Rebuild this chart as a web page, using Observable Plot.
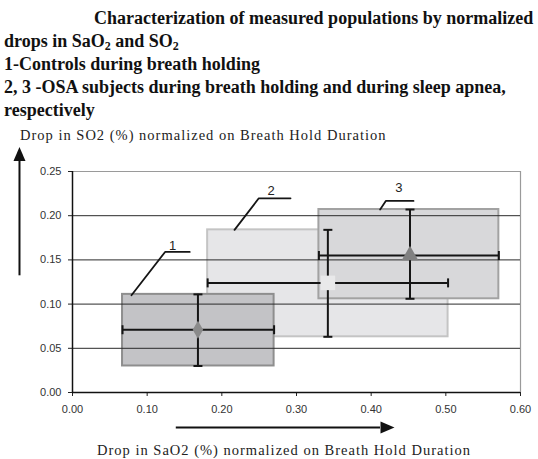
<!DOCTYPE html>
<html>
<head>
<meta charset="utf-8">
<script src="https://cdn.jsdelivr.net/npm/d3@7"></script>
<script src="https://cdn.jsdelivr.net/npm/@observablehq/plot@0.6"></script>
<style>
  body { margin: 0; background: #fff; }
  #wrap { position: relative; width: 538px; height: 459px; overflow: hidden; background: #fff; }
  .title { position: absolute; left: 4px; top: 7px; width: 534px; font-family: "Liberation Serif", serif; font-weight: bold; font-size: 18px; line-height: 23px; color: #111; white-space: nowrap; }
  .title sub { font-size: 12px; line-height: 0; vertical-align: -3px; }
  .axt { position: absolute; font-family: "Liberation Serif", serif; font-size: 14.5px; line-height: 16px; color: #222; white-space: nowrap; letter-spacing: 1px; }
  #chart { position: absolute; left: 0; top: 142px; }
</style>
</head>
<body>
<div id="wrap">
  <div class="title">
    <div style="padding-left:90px">Characterization of measured populations by normalized</div>
    <div>drops in SaO<sub>2</sub> and SO<sub>2</sub></div>
    <div>1-Controls during breath holding</div>
    <div>2, 3 -OSA subjects during breath holding and during sleep apnea,</div>
    <div>respectively</div>
  </div>
  <div class="axt" id="ytitle" style="left:20px; top:127px;">Drop in SO2 (%) normalized on Breath Hold Duration</div>
  <div id="chart"></div>
  <div class="axt" id="xtitle" style="left:97px; top:442px;">Drop in SaO2 (%) normalized on Breath Hold Duration</div>
</div>
<script>
// ---- data ----
const groups = ["1", "2", "3"];
const xMean = [0.168, 0.342, 0.452];
const yMean = [0.071, 0.124, 0.155];
const xLow  = [0.067, 0.181, 0.330];
const xHigh = [0.270, 0.503, 0.571];
const yLow  = [0.030, 0.063, 0.106];
const yHigh = [0.111, 0.184, 0.207];
const xTicks = [0, 0.1, 0.2, 0.3, 0.4, 0.5, 0.6];
const yTicks = [0, 0.05, 0.10, 0.15, 0.20, 0.25];
const yGrid = [0.05, 0.10, 0.15, 0.20];
// label positions and leader-line vertices (data units)
const labelX = [0.134, 0.266, 0.437];
const labelY = [0.166, 0.228, 0.231];
const leaderGroup = ["1","1","1","2","2","2","3","3","3"];
const leaderX = [0.079, 0.124, 0.157, 0.217, 0.2495, 0.292, 0.412, 0.4196, 0.4567];
const leaderY = [0.110, 0.159, 0.159, 0.184, 0.2197, 0.2197, 0.207, 0.2167, 0.2167];
// axis direction arrows (data units, outside the frame)
const vArrowX = [-0.071];
const vArrowY = [0.132, 0.262];
const hArrowY = [-0.0395];
const hArrowX = [0.139, 0.4125];

// ---- styles ----
const boxFill = ["#c3c3c6", "#e6e6e8", "#d8d8da"];
const boxStroke = ["#8e8e8e", "#c4c4c4", "#a2a2a2"];
const drawOrder = [1, 0, 2];

const rows = groups.map((g, i) => ({
  g, i, xm: xMean[i], ym: yMean[i], xl: xLow[i], xh: xHigh[i], yl: yLow[i], yh: yHigh[i],
  lx: labelX[i], ly: labelY[i]
}));
const boxes = drawOrder.map(i => rows[i]);
const leaders = leaderGroup.map((g, k) => ({g, x: leaderX[k], y: leaderY[k]}));

const vCap = {draw(c) { c.moveTo(0, -4.5); c.lineTo(0, 4.5); }};
const hCap = {draw(c) { c.moveTo(-4.5, 0); c.lineTo(4.5, 0); }};
const head = {draw(c) { c.moveTo(0, -14); c.lineTo(6, 0); c.lineTo(-6, 0); c.closePath(); }};

const ink = "#151515";

const chart = Plot.plot({
  width: 538,
  height: 296,
  marginTop: 29,
  marginBottom: 46,
  marginLeft: 72,
  marginRight: 18,
  x: {domain: [0, 0.6]},
  y: {domain: [0, 0.25]},
  color: {type: "identity"},
  style: {fontFamily: "'Liberation Sans', Arial, sans-serif", fontSize: "11px", color: "#333", overflow: "visible", background: "transparent"},
  marks: [
    // frame top & right (gray)
    Plot.ruleY([0.25], {x1: 0, x2: 0.6, stroke: "#9a9a9a", strokeWidth: 1.2}),
    Plot.ruleX([0.6], {y1: 0, y2: 0.25, stroke: "#9a9a9a", strokeWidth: 1.2}),
    // boxes
    Plot.rect(boxes, {x1: "xl", x2: "xh", y1: "yl", y2: "yh",
      fill: d => boxFill[d.i], stroke: d => boxStroke[d.i], strokeWidth: 2}),
    // gridlines on top
    Plot.ruleY(yGrid, {x1: 0, x2: 0.6, stroke: "#2a2a2a", strokeWidth: 1}),
    // axes
    Plot.axisY({ticks: yTicks, tickSize: 4, tickPadding: 7, tickFormat: d => d.toFixed(2), label: null, stroke: "#222", letterSpacing: "1.1px"}),
    Plot.axisX({ticks: xTicks, tickSize: 4, tickPadding: 9, tickFormat: d => d.toFixed(2), label: null, stroke: "#222", letterSpacing: "1px"}),
    Plot.ruleX([0], {y1: 0, y2: 0.25, stroke: "#111", strokeWidth: 1.5}),
    Plot.ruleY([0], {x1: 0, x2: 0.6, stroke: "#111", strokeWidth: 1.5}),
    // error bars
    Plot.ruleY(rows, {y: "ym", x1: "xl", x2: "xh", stroke: ink, strokeWidth: 2}),
    Plot.ruleX(rows, {x: "xm", y1: "yl", y2: "yh", stroke: ink, strokeWidth: 2}),
    Plot.dot(rows, {x: "xl", y: "ym", symbol: vCap, stroke: ink, strokeWidth: 2, fill: "none"}),
    Plot.dot(rows, {x: "xh", y: "ym", symbol: vCap, stroke: ink, strokeWidth: 2, fill: "none"}),
    Plot.dot(rows, {x: "xm", y: "yl", symbol: hCap, stroke: ink, strokeWidth: 2, fill: "none"}),
    Plot.dot(rows, {x: "xm", y: "yh", symbol: hCap, stroke: ink, strokeWidth: 2, fill: "none"}),
    // mean markers
    Plot.dot([rows[0]], {x: "xm", y: "ym", symbol: "diamond", r: 5.5, fill: "#8a8a8a", stroke: "none"}),
    Plot.dot([rows[1]], {x: "xm", y: "ym", symbol: "square", r: 8.2, fill: "#e9e9ea", stroke: "none"}),
    Plot.dot([rows[2]], {x: "xm", y: "ym", symbol: "triangle", r: 6.2, fill: "#808080", stroke: "none"}),
    // leader lines and labels
    Plot.line(leaders, {x: "x", y: "y", z: "g", stroke: ink, strokeWidth: 1.8}),
    Plot.text(rows, {x: "lx", y: "ly", text: "g", fontSize: 13, fill: "#222", letterSpacing: "1px"}),
    // direction arrows
    Plot.ruleX(vArrowX, {y1: vArrowY[0], y2: vArrowY[1], stroke: "#111", strokeWidth: 2}),
    Plot.dot(vArrowX, {x: d => d, y: vArrowY[1], symbol: head, fill: "#111", stroke: "none"}),
    Plot.ruleY(hArrowY, {x1: hArrowX[0], x2: hArrowX[1], stroke: "#111", strokeWidth: 2}),
    Plot.dot(hArrowY, {y: d => d, x: hArrowX[1], symbol: head, rotate: 90, fill: "#111", stroke: "none"})
  ]
});
document.getElementById("chart").appendChild(chart);
</script>
</body>
</html>
